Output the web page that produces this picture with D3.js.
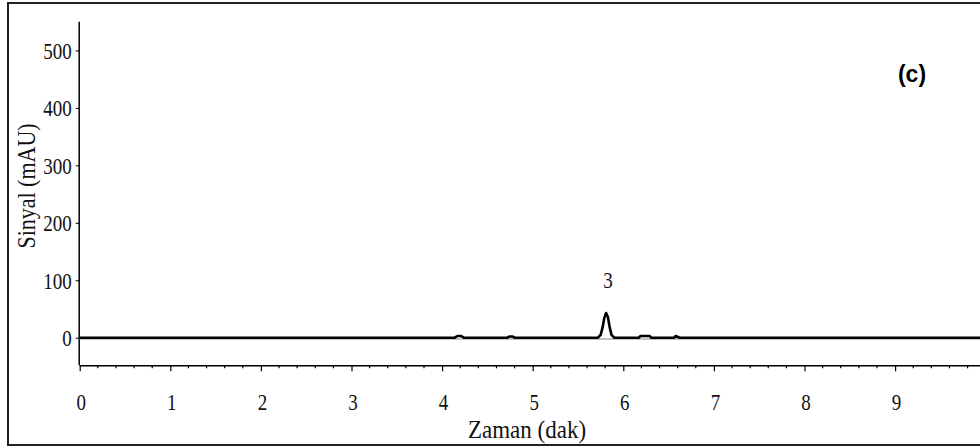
<!DOCTYPE html>
<html>
<head>
<meta charset="utf-8">
<script src="https://cdn.jsdelivr.net/npm/d3@7"></script>
<style>
  html, body { margin: 0; padding: 0; background: #fff; }
  svg { display: block; }
</style>
</head>
<body>
<svg id="chart" width="980" height="448"></svg>
<script>
// ---- data ----
const xTicks = [0, 1, 2, 3, 4, 5, 6, 7, 8, 9];
const yTicks = [0, 100, 200, 300, 400, 500];
const timeMin = [0, 4.14, 4.17, 4.21, 4.24, 4.72, 4.74, 4.78, 4.80, 5.72, 5.75, 5.77, 5.79, 5.81, 5.83, 5.85, 5.87, 5.90, 6.17, 6.19, 6.24, 6.29, 6.31, 6.56, 6.58, 6.62, 10];
const signal  = [0, 0,    3,    3,    0,    0,    2,    2,    0,    0,    5,    17,   34,   43,   36,   18,   5,    0,    0,    3,    3,    3,    0,    0,    3,    0,    0];
const peakLabels = [{ t: 5.82, v: 43, label: "3" }];
const xTitle = "Zaman (dak)";
const yTitle = "Sinyal (mAU)";
const panelLabel = "(c)";

// ---- layout ----
const svg = d3.select("#chart");
const x = d3.scaleLinear().domain([0, 10]).range([79.7, 985.7]);
const y = d3.scaleLinear().domain([-48, 550]).range([365.3, 21.7]);
const serif = "'Liberation Serif', 'Times New Roman', serif";
const tickFont = 19, stretch = 1.22;

// outer frame (right side runs off the image)
svg.append("path")
  .attr("d", "M990,3 H8 V445 H990")
  .attr("fill", "none").attr("stroke", "#222").attr("stroke-width", 2);

// y axis
const yAxis = svg.append("g").attr("transform", `translate(${x(0)},0)`)
  .call(d3.axisLeft(y).tickValues(yTicks).tickSize(4).tickPadding(6).tickFormat(d3.format("d")));
yAxis.select(".domain").attr("d", `M-0.5,${y(550)}V${y(-48)}`).attr("stroke", "#000").attr("stroke-width", 1.5);
yAxis.selectAll(".tick line").attr("stroke", "#000").attr("x1", -4).attr("x2", 0);
yAxis.selectAll(".tick text").attr("font-family", serif).attr("font-size", tickFont).attr("fill", "#111")
  .attr("dy", "0.34em").attr("x", -8).attr("transform", `scale(1,${stretch})`);

// x axis
const xAxis = svg.append("g").attr("transform", `translate(0,${y(-48)})`)
  .call(d3.axisBottom(x).tickValues(xTicks).tickSize(6).tickPadding(0).tickFormat(d3.format("d")));
xAxis.select(".domain").attr("d", `M${x(0)},0.5H990`).attr("stroke", "#000").attr("stroke-width", 1.5);
xAxis.selectAll(".tick line").attr("stroke", "#000").attr("stroke-width", 1.2);
xAxis.selectAll(".tick text").attr("font-family", serif).attr("font-size", tickFont).attr("fill", "#111")
  .attr("y", 0).attr("dy", 0).attr("transform", `translate(1,45) scale(1,${stretch})`);
// minor ticks
const minor = d3.range(0, 10.01, 0.2).filter(v => Math.abs(v - Math.round(v)) > 1e-6);
svg.append("g").selectAll("line").data(minor).join("line")
  .attr("x1", d => x(d)).attr("x2", d => x(d))
  .attr("y1", y(-48)).attr("y2", y(-48) + 3)
  .attr("stroke", "#000").attr("stroke-width", 1.2);

// zero baseline (thin gray under trace)
svg.append("line")
  .attr("x1", x(0)).attr("x2", 990)
  .attr("y1", y(0) + 1.3).attr("y2", y(0) + 1.3)
  .attr("stroke", "#888").attr("stroke-width", 1);

// trace
const pts = timeMin.map((t, i) => [t, signal[i]]);
svg.append("path")
  .datum(pts)
  .attr("fill", "none").attr("stroke", "#000").attr("stroke-width", 2.6)
  .attr("stroke-linejoin", "round")
  .attr("d", d3.line().x(d => x(d[0])).y(d => y(d[1])));

// peak labels
svg.append("g").selectAll("text").data(peakLabels).join("text")
  .attr("transform", d => `translate(${x(d.t) + 1},288) scale(1,${stretch})`)
  .attr("text-anchor", "middle")
  .attr("font-family", serif).attr("font-size", tickFont).attr("fill", "#111")
  .text(d => d.label);

// axis titles
svg.append("text")
  .attr("transform", "translate(527,438) scale(1,1.12)")
  .attr("text-anchor", "middle")
  .attr("font-family", serif).attr("font-size", 23).attr("fill", "#111")
  .text(xTitle);
svg.append("text")
  .attr("transform", "translate(35,186) rotate(-90) scale(1,1.12)")
  .attr("text-anchor", "middle")
  .attr("font-family", serif).attr("font-size", 22).attr("fill", "#111")
  .text(yTitle);

// panel label
svg.append("text")
  .attr("x", 912).attr("y", 82)
  .attr("text-anchor", "middle")
  .attr("font-family", "'Liberation Sans', Arial, sans-serif")
  .attr("font-weight", "bold").attr("font-size", 23).attr("fill", "#000")
  .text(panelLabel);
</script>
</body>
</html>
